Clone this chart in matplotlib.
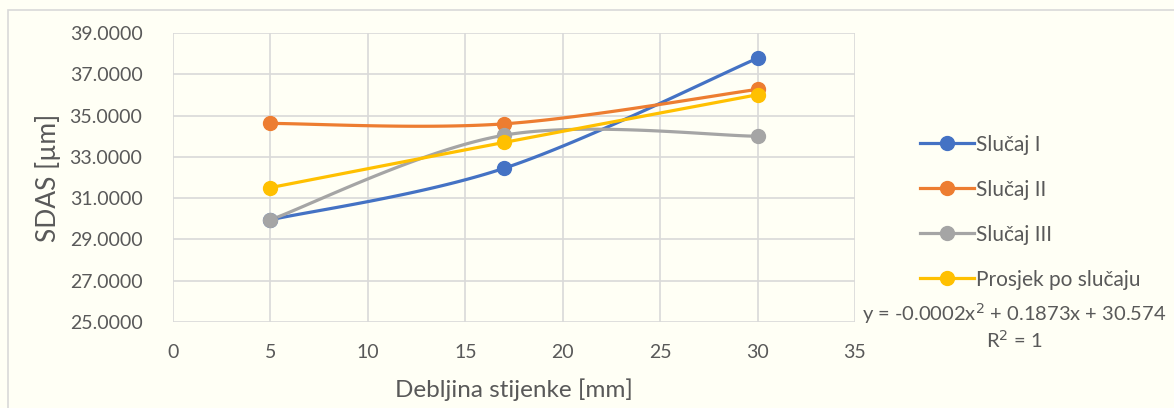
import numpy as np
import matplotlib.pyplot as plt
from matplotlib.patches import Rectangle

plt.rcParams['font.family'] = ['Lato', 'DejaVu Sans']

x = [5, 17, 30]
slucaj_1 = [29.95, 32.45, 37.78]
slucaj_2 = [34.62, 34.60, 36.27]
slucaj_3 = [29.95, 34.05, 34.00]
prosjek = [31.51, 33.70, 36.01]

names = ['Slučaj I', 'Slučaj II', 'Slučaj III', 'Prosjek po slučaju']
colors = ['#4472C4', '#ED7D31', '#A5A5A5', '#FFC000']
trend_text = 'y = -0.0002x$^2$ + 0.1873x + 30.574\nR$^2$ = 1'


def smooth(xs, ys, n=60):
    # excel style smoothed line (bezier through points)
    p = np.column_stack([xs, ys]).astype(float)
    out = []
    for i in range(len(p) - 1):
        p0 = p[i - 1] if i > 0 else p[i]
        p3 = p[i + 2] if i + 2 < len(p) else p[i + 1]
        c1 = p[i] + (p[i + 1] - p0) / 6
        c2 = p[i + 1] - (p3 - p[i]) / 6
        t = np.linspace(0, 1, n)[:, None]
        seg = ((1 - t) ** 3 * p[i] + 3 * (1 - t) ** 2 * t * c1
               + 3 * (1 - t) * t ** 2 * c2 + t ** 3 * p[i + 1])
        out.append(seg)
    out = np.vstack(out)
    return out[:, 0], out[:, 1]


fig = plt.figure(figsize=(11.74, 4.08), dpi=100)
fig.patch.set_facecolor('#FFFFF5')
fig.patches.append(Rectangle((8 / 1174, -0.01), 1.0, 1 - 10 / 408 + 0.01,
                             transform=fig.transFigure, fill=False,
                             edgecolor='#D9D9D9', linewidth=1.2))

ax = fig.add_axes([173 / 1174, 1 - 322 / 408, (855 - 173) / 1174, (322 - 33) / 408])
ax.set_facecolor('#FFFFF5')

for ys, name, c in zip([slucaj_1, slucaj_2, slucaj_3, prosjek], names, colors):
    sx, sy = smooth(x, ys)
    ax.plot(sx, sy, color=c, linewidth=2.3, solid_capstyle='round', zorder=3)
    ax.plot(x, ys, 'o', color=c, markersize=10, zorder=4)
    ax.plot([], [], '-o', color=c, linewidth=2.3, markersize=10, label=name)

ax.set_xlim(0, 35)
ax.set_ylim(25, 39)
ax.set_xticks(np.arange(0, 36, 5))
ax.set_yticks(np.arange(25, 40, 2))
ax.yaxis.set_major_formatter(plt.FormatStrFormatter('%.4f'))
ax.grid(True, color='#D9D9D9', linewidth=1.2, zorder=0)
ax.set_axisbelow(True)
for s in ax.spines.values():
    s.set_visible(False)
ax.tick_params(length=0, labelsize=14, colors='#595959')
ax.tick_params(axis='y', pad=22)
ax.tick_params(axis='x', pad=16)

fig.text(48 / 1174, 1 - 178 / 408, 'SDAS [µm]', rotation=90, ha='center', va='center',
         fontsize=19, color='#595959')
fig.text(514 / 1174, 1 - 390 / 408, 'Debljina stijenke [mm]', ha='center', va='center',
         fontsize=17.5, color='#595959')

leg = ax.legend(loc='center left', bbox_to_anchor=(1.083, 0.38), frameon=False,
                fontsize=15, labelcolor='#595959', handlelength=2.6,
                handletextpad=0.1, labelspacing=1.2, borderaxespad=0)

fig.text(1014 / 1174, 1 - 326 / 408, trend_text, ha='center', va='center',
         fontsize=14.5, color='#595959', linespacing=1.15)

fig.savefig('out.png', dpi=100, facecolor=fig.get_facecolor())
